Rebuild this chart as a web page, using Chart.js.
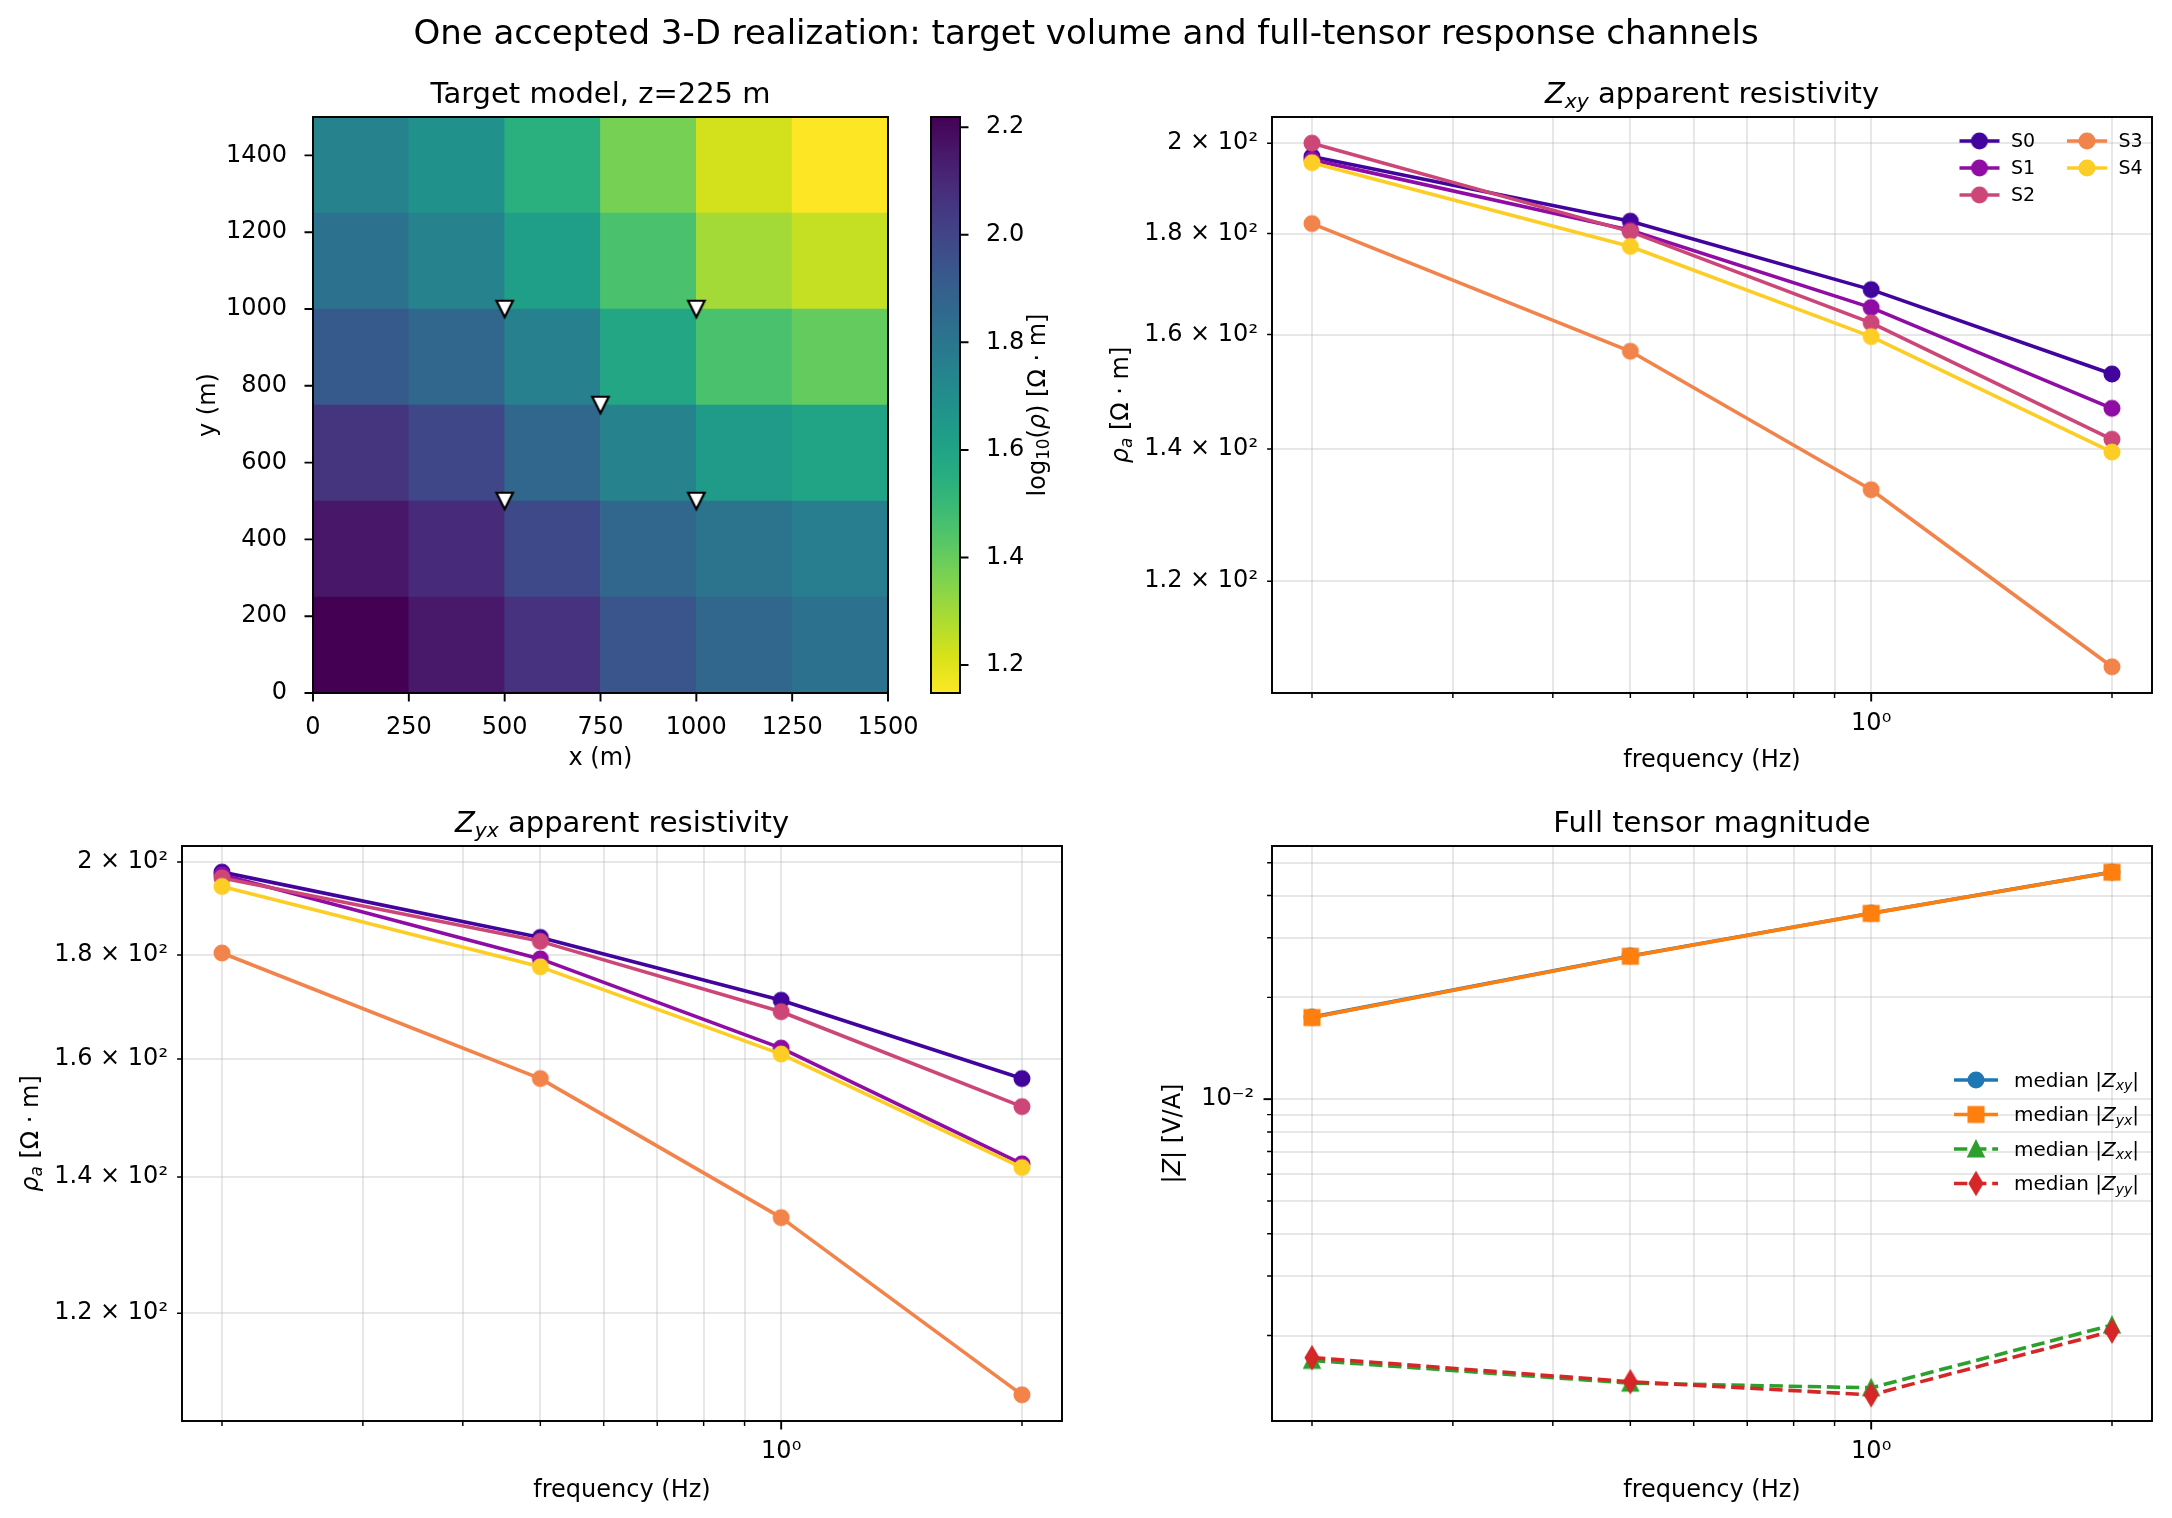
<!DOCTYPE html>
<html>
<head>
<meta charset="utf-8">
<title>One accepted 3-D realization</title>
<script src="https://cdn.jsdelivr.net/npm/chart.js@4.4.1/dist/chart.umd.min.js"></script>
<style>
  html, body { margin: 0; padding: 0; background: #ffffff; }
  #figure { position: relative; width: 2172px; height: 1518px; overflow: hidden; background: #ffffff; }
  #figure canvas { position: absolute; left: 0; top: 0; }
</style>
</head>
<body>
<div id="figure">
  <canvas id="mapChart" width="2172" height="1518"></canvas>
  <canvas id="cbarChart" width="2172" height="1518"></canvas>
  <canvas id="zxyChart" width="2172" height="1518"></canvas>
  <canvas id="zyxChart" width="2172" height="1518"></canvas>
  <canvas id="tensorChart" width="2172" height="1518"></canvas>
</div>
<script>
const W = 2172;
const H = 1518;
const FONT = '"DejaVu Sans", "Liberation Sans", sans-serif';

// ---- data ----
const FREQ = [0.2, 0.5, 1.0, 2.0];
const STATIONS = ['S0', 'S1', 'S2', 'S3', 'S4'];

const RHO_XY_S0 = [196.9, 182.6, 168.6, 152.8];
const RHO_XY_S1 = [196.2, 180.7, 165.1, 146.8];
const RHO_XY_S2 = [200.0, 180.4, 162.2, 141.6];
const RHO_XY_S3 = [182.1, 156.9, 133.5, 108.6];
const RHO_XY_S4 = [195.5, 177.3, 159.6, 139.5];

const RHO_YX_S0 = [197.7, 183.6, 171.0, 156.5];
const RHO_YX_S1 = [197.1, 179.2, 162.0, 142.1];
const RHO_YX_S2 = [196.4, 182.8, 168.8, 151.6];
const RHO_YX_S3 = [180.4, 156.5, 133.7, 109.4];
const RHO_YX_S4 = [194.5, 177.6, 160.9, 141.5];

const MED_ZXY = [0.01748, 0.02652, 0.03548, 0.04692];
const MED_ZYX = [0.01743, 0.02645, 0.03543, 0.04688];
const MED_ZXX = [0.001688, 0.001446, 0.001401, 0.002147];
const MED_ZYY = [0.001720, 0.001460, 0.001335, 0.002060];

// target model slice, log10(rho); one array per 250 m row, bottom row first
const CELL_X = [125, 375, 625, 875, 1125, 1375];
const CELL_EDGES_Y = [0, 250, 500, 750, 1000, 1250, 1500];
const LOGRHO_ROW0 = [2.219, 2.149, 2.069, 1.941, 1.866, 1.817];
const LOGRHO_ROW1 = [2.155, 2.090, 1.983, 1.866, 1.812, 1.769];
const LOGRHO_ROW2 = [2.058, 1.994, 1.866, 1.748, 1.641, 1.598];
const LOGRHO_ROW3 = [1.919, 1.866, 1.758, 1.587, 1.459, 1.405];
const LOGRHO_ROW4 = [1.817, 1.748, 1.619, 1.459, 1.298, 1.244];
const LOGRHO_ROW5 = [1.748, 1.684, 1.544, 1.373, 1.223, 1.148];
const SITE_X = [500, 1000, 750, 500, 1000];
const SITE_Y = [1000, 1000, 750, 500, 500];

// ---- tick values and labels ----
const MAP_X_TICKS = [0, 250, 500, 750, 1000, 1250, 1500];
const MAP_Y_TICKS = [0, 200, 400, 600, 800, 1000, 1200, 1400];
const CBAR_TICKS = [1.2, 1.4, 1.6, 1.8, 2.0, 2.2];
const FREQ_MAJOR = [1];
const FREQ_MINOR = [0.2, 0.3, 0.4, 0.5, 0.6, 0.7, 0.8, 0.9, 2];
const FREQ_LABEL = '10⁰';
const RHO_TICKS = [120, 140, 160, 180, 200];
const RHO_LABELS = ['1.2 × 10²', '1.4 × 10²', '1.6 × 10²', '1.8 × 10²', '2 × 10²'];
const Z_MAJOR = [0.01];
const Z_MINOR = [0.002, 0.003, 0.004, 0.005, 0.006, 0.007, 0.008, 0.009, 0.02, 0.03, 0.04, 0.05];
const Z_LABEL = '10⁻²';

// ---- styling ----
const STATION_COLORS = ['#41049d', '#8f0da4', '#cc4778', '#f2844b', '#fcce25'];
const TAB_BLUE = '#1f77b4';
const TAB_ORANGE = '#ff7f0e';
const TAB_GREEN = '#2ca02c';
const TAB_RED = '#d62728';
const GRID_COLOR = 'rgba(176,176,176,0.3)';
const LINE_W = 3.6;
const DASH = [13.3, 5.8];
const VIRIDIS = ['#440154', '#48186a', '#472d7b', '#424086', '#3b528b', '#33638d', '#2c728e', '#26828e',
  '#21918c', '#1fa088', '#28ae80', '#3fbc73', '#5ec962', '#84d44b', '#addc30', '#d8e219', '#fde725'];

// tick label boxes are clipped to the axis box, so keep them wide
const AX_W = 175;
const AX_H = 60;
const MAP_AREA = { left: 313, top: 117, right: 888, bottom: 693 };
const CBAR_AREA = { left: 931, top: 117, right: 960, bottom: 693 };
const ZXY_AREA = { left: 1272, top: 117, right: 2152, bottom: 693 };
const ZYX_AREA = { left: 182, top: 846, right: 1062, bottom: 1421 };
const TENSOR_AREA = { left: 1272, top: 846, right: 2152, bottom: 1421 };

Chart.defaults.font.family = FONT;
Chart.defaults.color = '#000';

function hexToRgb(h) {
  const n = parseInt(h.slice(1), 16);
  return [(n >> 16) & 255, (n >> 8) & 255, n & 255];
}

function viridis(t) {
  t = Math.min(1, Math.max(0, t));
  const s = t * (VIRIDIS.length - 1);
  const i = Math.min(Math.floor(s), VIRIDIS.length - 2);
  const f = s - i;
  const a = hexToRgb(VIRIDIS[i]);
  const b = hexToRgb(VIRIDIS[i + 1]);
  return 'rgb(' + a.map((c, k) => Math.round(c + (b[k] - c) * f)).join(',') + ')';
}

function logLimits(values) {
  const lo = Math.log10(Math.min(...values));
  const hi = Math.log10(Math.max(...values));
  const pad = (hi - lo) * 0.05;
  return [Math.pow(10, lo - pad), Math.pow(10, hi + pad)];
}

function makeMarker(shape, color, ms, mew, edge) {
  const size = Math.ceil(ms * 1.6 + 8) + (Math.ceil(ms * 1.6 + 8) % 2);
  const c = document.createElement('canvas');
  c.width = size;
  c.height = size;
  const g = c.getContext('2d');
  const h = ms / 2;
  g.translate(size / 2, size / 2);
  g.beginPath();
  if (shape === 'o') {
    g.arc(0, 0, h, 0, Math.PI * 2);
  } else if (shape === 's') {
    g.rect(-h, -h, ms, ms);
  } else if (shape === '^') {
    g.moveTo(0, -h); g.lineTo(h, h); g.lineTo(-h, h); g.closePath();
  } else if (shape === 'v') {
    g.moveTo(0, h); g.lineTo(-h, -h); g.lineTo(h, -h); g.closePath();
  } else if (shape === 'd') {
    const dh = ms * Math.SQRT1_2;
    const dw = dh * 0.6;
    g.moveTo(0, -dh); g.lineTo(dw, 0); g.lineTo(0, dh); g.lineTo(-dw, 0); g.closePath();
  }
  g.fillStyle = color;
  g.fill();
  g.lineJoin = 'miter';
  g.lineWidth = mew;
  g.strokeStyle = edge || color;
  g.stroke();
  return c;
}

function fixedTicks(values) {
  return (scale) => { scale.ticks = values.slice().sort((a, b) => a - b).map(v => ({ value: v })); };
}

function areaPadding(area, yOnRight, noX) {
  return {
    left: yOnRight ? area.left : area.left - AX_W,
    top: area.top,
    right: yOnRight ? W - area.right - AX_W : W - area.right,
    bottom: noX ? H - area.bottom : H - area.bottom - AX_H
  };
}

function drawRich(ctx, item) {
  const size = item.size || 24;
  ctx.save();
  ctx.translate(item.x, item.y);
  if (item.rot) ctx.rotate(item.rot);
  ctx.fillStyle = '#000';
  ctx.textBaseline = 'alphabetic';
  ctx.textAlign = 'left';
  const parts = item.segs.map(s => {
    const fs = s.sub ? size * 0.7 : size;
    const font = (s.it ? 'italic ' : '') + fs + 'px ' + FONT;
    ctx.font = font;
    return { t: s.t, font, w: ctx.measureText(s.t).width, dy: s.sub ? size * 0.17 : 0 };
  });
  const total = parts.reduce((acc, p) => acc + p.w, 0);
  let x = item.align === 'left' ? 0 : -total / 2;
  parts.forEach(p => {
    ctx.font = p.font;
    ctx.fillText(p.t, x, p.dy);
    x += p.w;
  });
  ctx.restore();
}

function drawTickMarks(ctx, scale, values, major) {
  const len = major ? 8.5 : 4.9;
  ctx.save();
  ctx.strokeStyle = '#000';
  ctx.lineWidth = major ? 1.94 : 1.46;
  ctx.beginPath();
  values.forEach(v => {
    const p = scale.getPixelForValue(v);
    if (scale.isHorizontal()) {
      ctx.moveTo(p, scale.top); ctx.lineTo(p, scale.top + len);
    } else if (scale.position === 'right') {
      ctx.moveTo(scale.left, p); ctx.lineTo(scale.left + len, p);
    } else {
      ctx.moveTo(scale.right, p); ctx.lineTo(scale.right - len, p);
    }
  });
  ctx.stroke();
  ctx.restore();
}

function drawLegend(ctx, items) {
  items.forEach(it => {
    ctx.save();
    ctx.strokeStyle = it.color;
    ctx.lineWidth = LINE_W;
    ctx.setLineDash(it.dash || []);
    ctx.beginPath();
    ctx.moveTo(it.x, it.y);
    ctx.lineTo(it.x + it.len, it.y);
    ctx.stroke();
    ctx.setLineDash([]);
    const m = it.marker;
    ctx.drawImage(m, it.x + it.len / 2 - m.width / 2, it.y - m.height / 2);
    ctx.restore();
    drawRich(ctx, { x: it.x + it.textDx, y: it.y + it.size * 0.34, size: it.size, align: 'left', segs: it.segs });
  });
}

function deco(cfg) {
  return {
    id: 'deco',
    beforeDatasetsDraw(chart) {
      if (cfg.gradient) cfg.gradient(chart);
    },
    afterDraw(chart) {
      const ctx = chart.ctx;
      const a = chart.chartArea;
      (cfg.ticks || []).forEach(t => drawTickMarks(ctx, chart.scales[t.axis], t.values, t.major));
      ctx.save();
      ctx.strokeStyle = '#000';
      ctx.lineWidth = 1.94;
      ctx.strokeRect(a.left, a.top, a.right - a.left, a.bottom - a.top);
      ctx.restore();
      (cfg.texts || []).forEach(t => drawRich(ctx, t));
      if (cfg.legend) drawLegend(ctx, cfg.legend);
    }
  };
}

function tickFont() {
  return { family: FONT, size: 24 };
}

function baseOptions(area, yOnRight, noX) {
  return {
    responsive: false,
    animation: false,
    events: [],
    devicePixelRatio: 1,
    layout: { padding: areaPadding(area, yOnRight, noX), autoPadding: false },
    plugins: { legend: { display: false }, tooltip: { enabled: false }, title: { display: false } }
  };
}

function logAxis(limits, tickValues, labelFor, padding, isX) {
  return {
    type: 'logarithmic',
    min: limits[0],
    max: limits[1],
    afterBuildTicks: fixedTicks(tickValues),
    afterFit: isX ? (s) => { s.height = AX_H; } : (s) => { s.width = AX_W; },
    grid: { color: GRID_COLOR, lineWidth: 1.94, drawTicks: false },
    border: { display: false },
    ticks: { autoSkip: false, maxRotation: 0, minRotation: 0, padding, font: tickFont(), color: '#000', callback: labelFor }
  };
}

const ROT = -Math.PI / 2;

// ---- target model map ----
const LOGRHO_ROWS = [LOGRHO_ROW0, LOGRHO_ROW1, LOGRHO_ROW2, LOGRHO_ROW3, LOGRHO_ROW4, LOGRHO_ROW5];
const VMIN = Math.min(...LOGRHO_ROWS.flat());
const VMAX = Math.max(...LOGRHO_ROWS.flat());
const cellColor = (v) => viridis(1 - (v - VMIN) / (VMAX - VMIN));
const siteMarker = makeMarker('v', '#ffffff', 16.5, 2.2, '#000000');

const mapDatasets = LOGRHO_ROWS.map((row, r) => ({
  type: 'bar',
  label: 'row ' + r,
  data: CELL_X.map((x) => ({ x, y: [CELL_EDGES_Y[r], CELL_EDGES_Y[r + 1]] })),
  backgroundColor: row.map(cellColor),
  borderWidth: 0,
  barPercentage: 1,
  categoryPercentage: 1,
  grouped: false,
  order: 1
}));
mapDatasets.push({
  type: 'scatter',
  label: 'stations',
  data: SITE_X.map((x, i) => ({ x, y: SITE_Y[i] })),
  pointStyle: siteMarker,
  pointRadius: 10,
  order: 0
});

new Chart(document.getElementById('mapChart'), {
  type: 'bar',
  data: { datasets: mapDatasets },
  options: Object.assign(baseOptions(MAP_AREA), {
    scales: {
      x: {
        type: 'linear', min: 0, max: 1500, offset: false,
        afterBuildTicks: fixedTicks(MAP_X_TICKS),
        afterFit: (s) => { s.height = AX_H; },
        grid: { display: false }, border: { display: false },
        ticks: { autoSkip: false, maxRotation: 0, minRotation: 0, padding: 12, font: tickFont(), color: '#000', callback: (v) => String(v) }
      },
      y: {
        type: 'linear', min: 0, max: 1500,
        afterBuildTicks: fixedTicks(MAP_Y_TICKS),
        afterFit: (s) => { s.width = AX_W; },
        grid: { display: false }, border: { display: false },
        ticks: { autoSkip: false, padding: 18, font: tickFont(), color: '#000', callback: (v) => String(v) }
      }
    }
  }),
  plugins: [deco({
    ticks: [{ axis: 'x', values: MAP_X_TICKS, major: true }, { axis: 'y', values: MAP_Y_TICKS, major: true }],
    texts: [
      { x: 1086, y: 44, size: 34, segs: [{ t: 'One accepted 3-D realization: target volume and full-tensor response channels' }] },
      { x: 600.5, y: 103, size: 29, segs: [{ t: 'Target model, z=225 m' }] },
      { x: 600.5, y: 765, size: 24, segs: [{ t: 'x (m)' }] },
      { x: 215, y: 405, size: 24, rot: ROT, segs: [{ t: 'y (m)' }] }
    ]
  })]
});

// ---- colour bar ----
new Chart(document.getElementById('cbarChart'), {
  type: 'scatter',
  data: { datasets: [] },
  options: Object.assign(baseOptions(CBAR_AREA, true, true), {
    scales: {
      x: { type: 'linear', display: false, min: 0, max: 1 },
      y: {
        type: 'linear', position: 'right', min: VMIN, max: VMAX,
        afterBuildTicks: fixedTicks(CBAR_TICKS),
        afterFit: (s) => { s.width = AX_W; },
        grid: { display: false }, border: { display: false },
        ticks: { autoSkip: false, padding: 18, font: tickFont(), color: '#000', callback: (v) => v.toFixed(1) }
      }
    }
  }),
  plugins: [deco({
    gradient(chart) {
      const ctx = chart.ctx;
      const a = chart.chartArea;
      const y = chart.scales.y;
      const top = y.getPixelForValue(VMAX);
      const bot = y.getPixelForValue(VMIN);
      const grad = ctx.createLinearGradient(0, top, 0, bot);
      VIRIDIS.forEach((c, i) => grad.addColorStop(i / (VIRIDIS.length - 1), c));
      ctx.save();
      ctx.fillStyle = grad;
      ctx.fillRect(a.left, top, a.right - a.left, bot - top);
      ctx.restore();
    },
    ticks: [{ axis: 'y', values: CBAR_TICKS, major: true }],
    texts: [
      { x: 1045, y: 405, size: 24, rot: ROT, segs: [{ t: 'log' }, { t: '10', sub: true }, { t: '(' }, { t: 'ρ', it: true }, { t: ') [Ω · m]' }] }
    ]
  })]
});

// ---- apparent resistivity panels ----
const stationMarkers = STATION_COLORS.map(c => makeMarker('o', c, 14.6, 2.43));

function stationDatasets(series) {
  return series.map((vals, i) => ({
    label: STATIONS[i],
    data: FREQ.map((f, k) => ({ x: f, y: vals[k] })),
    borderColor: STATION_COLORS[i],
    backgroundColor: STATION_COLORS[i],
    borderWidth: LINE_W,
    borderJoinStyle: 'round',
    pointStyle: stationMarkers[i],
    pointRadius: 8,
    tension: 0,
    fill: false,
    order: series.length - i
  }));
}

const resLegend = STATIONS.map((name, i) => ({
  x: i < 3 ? 1959.5 : 2067,
  y: [141, 168, 195][i % 3],
  len: 40, textDx: 51.5, size: 19,
  color: STATION_COLORS[i], marker: stationMarkers[i], segs: [{ t: name }]
}));

const freqLimits = logLimits(FREQ);
const freqLabel = (v) => (v === 1 ? FREQ_LABEL : '');
const rhoLabel = (v) => { const i = RHO_TICKS.indexOf(v); return i >= 0 ? RHO_LABELS[i] : ''; };

const xySeries = [RHO_XY_S0, RHO_XY_S1, RHO_XY_S2, RHO_XY_S3, RHO_XY_S4];
new Chart(document.getElementById('zxyChart'), {
  type: 'line',
  data: { datasets: stationDatasets(xySeries) },
  options: Object.assign(baseOptions(ZXY_AREA), {
    scales: {
      x: logAxis(freqLimits, FREQ_MINOR.concat(FREQ_MAJOR), freqLabel, 16, true),
      y: logAxis(logLimits(xySeries.flat()), RHO_TICKS, rhoLabel, 14, false)
    }
  }),
  plugins: [deco({
    ticks: [
      { axis: 'x', values: FREQ_MAJOR, major: true }, { axis: 'x', values: FREQ_MINOR, major: false },
      { axis: 'y', values: RHO_TICKS, major: false }
    ],
    texts: [
      { x: 1712, y: 103, size: 29, segs: [{ t: 'Z', it: true }, { t: 'xy', it: true, sub: true }, { t: ' apparent resistivity' }] },
      { x: 1712, y: 767, size: 24, segs: [{ t: 'frequency (Hz)' }] },
      { x: 1128, y: 405, size: 24, rot: ROT, segs: [{ t: 'ρ', it: true }, { t: 'a', it: true, sub: true }, { t: ' [Ω · m]' }] }
    ],
    legend: resLegend
  })]
});

const yxSeries = [RHO_YX_S0, RHO_YX_S1, RHO_YX_S2, RHO_YX_S3, RHO_YX_S4];
new Chart(document.getElementById('zyxChart'), {
  type: 'line',
  data: { datasets: stationDatasets(yxSeries) },
  options: Object.assign(baseOptions(ZYX_AREA), {
    scales: {
      x: logAxis(freqLimits, FREQ_MINOR.concat(FREQ_MAJOR), freqLabel, 16, true),
      y: logAxis(logLimits(yxSeries.flat()), RHO_TICKS, rhoLabel, 14, false)
    }
  }),
  plugins: [deco({
    ticks: [
      { axis: 'x', values: FREQ_MAJOR, major: true }, { axis: 'x', values: FREQ_MINOR, major: false },
      { axis: 'y', values: RHO_TICKS, major: false }
    ],
    texts: [
      { x: 622, y: 832, size: 29, segs: [{ t: 'Z', it: true }, { t: 'yx', it: true, sub: true }, { t: ' apparent resistivity' }] },
      { x: 622, y: 1497, size: 24, segs: [{ t: 'frequency (Hz)' }] },
      { x: 38, y: 1133.5, size: 24, rot: ROT, segs: [{ t: 'ρ', it: true }, { t: 'a', it: true, sub: true }, { t: ' [Ω · m]' }] }
    ]
  })]
});

// ---- full tensor magnitude ----
const tensorMarkers = {
  xy: makeMarker('o', TAB_BLUE, 14.6, 2.43),
  yx: makeMarker('s', TAB_ORANGE, 14.6, 2.43),
  xx: makeMarker('^', TAB_GREEN, 14.6, 2.43),
  yy: makeMarker('d', TAB_RED, 14.6, 2.43)
};

function tensorDataset(label, vals, color, marker, dash, order) {
  return {
    label,
    data: FREQ.map((f, k) => ({ x: f, y: vals[k] })),
    borderColor: color,
    backgroundColor: color,
    borderWidth: LINE_W,
    borderDash: dash,
    borderJoinStyle: 'round',
    pointStyle: marker,
    pointRadius: 8,
    tension: 0,
    fill: false,
    order
  };
}

const tensorLegendRows = [1080, 1114.5, 1149, 1183.5];
const tensorLegend = [
  { sub: 'xy', color: TAB_BLUE, marker: tensorMarkers.xy, dash: [] },
  { sub: 'yx', color: TAB_ORANGE, marker: tensorMarkers.yx, dash: [] },
  { sub: 'xx', color: TAB_GREEN, marker: tensorMarkers.xx, dash: DASH },
  { sub: 'yy', color: TAB_RED, marker: tensorMarkers.yy, dash: DASH }
].map((e, i) => ({
  x: 1954, y: tensorLegendRows[i], len: 44, textDx: 60, size: 20,
  color: e.color, marker: e.marker, dash: e.dash,
  segs: [{ t: 'median |' }, { t: 'Z', it: true }, { t: e.sub, it: true, sub: true }, { t: '|' }]
}));

new Chart(document.getElementById('tensorChart'), {
  type: 'line',
  data: {
    datasets: [
      tensorDataset('median |Zxy|', MED_ZXY, TAB_BLUE, tensorMarkers.xy, [], 4),
      tensorDataset('median |Zyx|', MED_ZYX, TAB_ORANGE, tensorMarkers.yx, [], 3),
      tensorDataset('median |Zxx|', MED_ZXX, TAB_GREEN, tensorMarkers.xx, DASH, 2),
      tensorDataset('median |Zyy|', MED_ZYY, TAB_RED, tensorMarkers.yy, DASH, 1)
    ]
  },
  options: Object.assign(baseOptions(TENSOR_AREA), {
    scales: {
      x: logAxis(freqLimits, FREQ_MINOR.concat(FREQ_MAJOR), freqLabel, 16, true),
      y: logAxis(logLimits(MED_ZXY.concat(MED_ZYX, MED_ZXX, MED_ZYY)), Z_MINOR.concat(Z_MAJOR),
        (v) => (v === 0.01 ? Z_LABEL : ''), 18, false)
    }
  }),
  plugins: [deco({
    ticks: [
      { axis: 'x', values: FREQ_MAJOR, major: true }, { axis: 'x', values: FREQ_MINOR, major: false },
      { axis: 'y', values: Z_MAJOR, major: true }, { axis: 'y', values: Z_MINOR, major: false }
    ],
    texts: [
      { x: 1712, y: 832, size: 29, segs: [{ t: 'Full tensor magnitude' }] },
      { x: 1712, y: 1497, size: 24, segs: [{ t: 'frequency (Hz)' }] },
      { x: 1180, y: 1133.5, size: 24, rot: ROT, segs: [{ t: '|' }, { t: 'Z', it: true }, { t: '| [V/A]' }] }
    ],
    legend: tensorLegend
  })]
});
</script>
</body>
</html>
